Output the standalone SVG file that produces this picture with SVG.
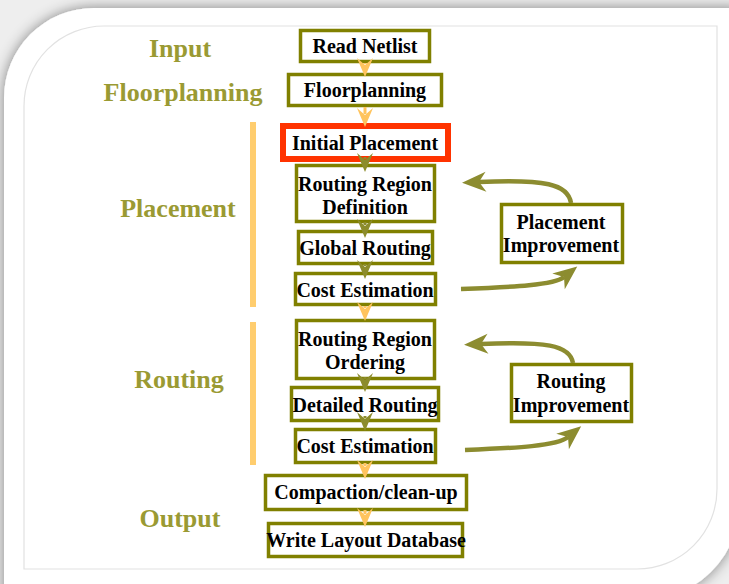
<svg xmlns="http://www.w3.org/2000/svg" width="729" height="584" viewBox="0 0 729 584">
  <style>
    .box { fill: #ffffff; stroke: #808000; stroke-width: 3.5; }
    .hot { fill: #ffffff; stroke: #ff3300; stroke-width: 6; }
    .t { font-family: "Liberation Serif", "Times New Roman", serif; font-weight: bold; font-size: 20px; fill: #000000; text-anchor: middle; }
    .stage { font-family: "Liberation Serif", "Times New Roman", serif; font-weight: bold; font-size: 26px; fill: #9a9a33; text-anchor: middle; }
    .bar { fill: #ffcd6e; }
    .flow-o { fill: none; stroke: #ffc45e; stroke-width: 3; marker-end: url(#headO); }
    .flow-g { fill: none; stroke: #8c8c2c; stroke-width: 3; marker-end: url(#headG); }
    .loop { fill: none; stroke: #8c8c30; stroke-width: 4.5; marker-end: url(#headBig); }
  </style>
  <defs>
    <filter id="cardShadow" x="-5%" y="-5%" width="110%" height="110%">
      <feDropShadow dx="0" dy="0" stdDeviation="7" flood-color="#000000" flood-opacity="0.45"/>
    </filter>
    <marker id="headO" markerUnits="userSpaceOnUse" markerWidth="30" markerHeight="30" refX="0" refY="0" orient="auto" overflow="visible">
      <path d="M-6,-8 L13,0 L-6,8 L1,0 Z" fill="#ffc45e"/>
    </marker>
    <marker id="headG" markerUnits="userSpaceOnUse" markerWidth="30" markerHeight="30" refX="0" refY="0" orient="auto" overflow="visible">
      <path d="M-6,-8 L13,0 L-6,8 L1,0 Z" fill="#8c8c2c"/>
    </marker>
    <marker id="headBig" markerUnits="userSpaceOnUse" markerWidth="40" markerHeight="40" refX="0" refY="0" orient="auto" overflow="visible">
      <path d="M-7,-10 L17,0 L-7,10 L0,0 Z" fill="#8c8c30"/>
    </marker>
  </defs>

  <!-- page and card -->
  <rect x="0" y="0" width="729" height="584" fill="#eeeeee"/>
  <path d="M4,98 A90,90 0 0 1 94,8 H740 V490 A100,100 0 0 1 628,600 H4 Z" fill="#ffffff" filter="url(#cardShadow)"/>
  <path d="M24,106 A80,80 0 0 1 104,26 H717 V489 A80,80 0 0 1 637,569 H24 Z" fill="none" stroke="#e2e2e2" stroke-width="1.2"/>

  <!-- stage labels and brackets -->
  <g id="stages">
    <text class="stage" x="180" y="57">Input</text>
    <text class="stage" x="183" y="101">Floorplanning</text>
    <text class="stage" x="178" y="217">Placement</text>
    <text class="stage" x="179" y="388">Routing</text>
    <text class="stage" x="180" y="527">Output</text>
    <rect class="bar" x="250" y="122" width="6" height="185"/>
    <rect class="bar" x="250" y="322" width="6" height="143"/>
  </g>

  <!-- nodes -->
  <g id="read-netlist">
    <rect class="box" x="300.5" y="30.5" width="129" height="31"/>
    <text class="t" x="365" y="53">Read Netlist</text>
  </g>
  <g id="floorplanning">
    <rect class="box" x="288.5" y="74.5" width="153" height="31"/>
    <text class="t" x="365" y="97">Floorplanning</text>
  </g>
  <g id="initial-placement">
    <rect class="hot" x="283" y="126" width="165" height="33"/>
    <text class="t" x="365" y="150">Initial Placement</text>
  </g>
  <g id="routing-region-definition">
    <rect class="box" x="296.5" y="165.5" width="138" height="56"/>
    <text class="t" x="365" y="191">Routing Region</text>
    <text class="t" x="365" y="214">Definition</text>
  </g>
  <g id="global-routing">
    <rect class="box" x="298.5" y="231.5" width="134" height="32"/>
    <text class="t" x="365" y="255">Global Routing</text>
  </g>
  <g id="cost-estimation-1">
    <rect class="box" x="295.5" y="273.5" width="140" height="31"/>
    <text class="t" x="365" y="297">Cost Estimation</text>
  </g>
  <g id="routing-region-ordering">
    <rect class="box" x="296.5" y="320.5" width="138" height="58"/>
    <text class="t" x="365" y="346">Routing Region</text>
    <text class="t" x="365" y="369">Ordering</text>
  </g>
  <g id="detailed-routing">
    <rect class="box" x="291.5" y="387.5" width="147" height="33"/>
    <text class="t" x="365" y="412">Detailed Routing</text>
  </g>
  <g id="cost-estimation-2">
    <rect class="box" x="295.5" y="429.5" width="140" height="33"/>
    <text class="t" x="365" y="453">Cost Estimation</text>
  </g>
  <g id="compaction">
    <rect class="box" x="265.5" y="475.5" width="201" height="34"/>
    <text class="t" x="366" y="499">Compaction/clean-up</text>
  </g>
  <g id="write-layout-database">
    <rect class="box" x="268.5" y="523.5" width="194" height="33"/>
    <text class="t" x="366" y="547">Write Layout Database</text>
  </g>
  <g id="placement-improvement">
    <rect class="box" x="501.5" y="204.5" width="121" height="58"/>
    <text class="t" x="561" y="229">Placement</text>
    <text class="t" x="561" y="252">Improvement</text>
  </g>
  <g id="routing-improvement">
    <rect class="box" x="511.5" y="364.5" width="120" height="57"/>
    <text class="t" x="571" y="388">Routing</text>
    <text class="t" x="571" y="412">Improvement</text>
  </g>

  <!-- connectors -->
  <g id="connectors">
    <path class="flow-o" d="M365,63 V64"/>
    <path class="flow-o" d="M365,107 V114"/>
    <path class="flow-g" d="M365,157 V159"/>
    <path class="flow-g" d="M365,222 V225"/>
    <path class="flow-g" d="M365,264 V266"/>
    <path class="flow-o" d="M365,306 V308"/>
    <path class="flow-g" d="M365,377 V379"/>
    <path class="flow-g" d="M365,416 V418"/>
    <path class="flow-o" d="M365,463 V466"/>
    <path class="flow-o" d="M365,510 V514"/>
    <path class="loop" d="M571,203 C568,184 545,179 479,182"/>
    <path class="loop" d="M461,289 C515,287 554,285 564,277"/>
    <path class="loop" d="M573,363 C570,345 545,341 481,344"/>
    <path class="loop" d="M465,450 C517,448 557,446 568,437"/>
  </g>
</svg>
